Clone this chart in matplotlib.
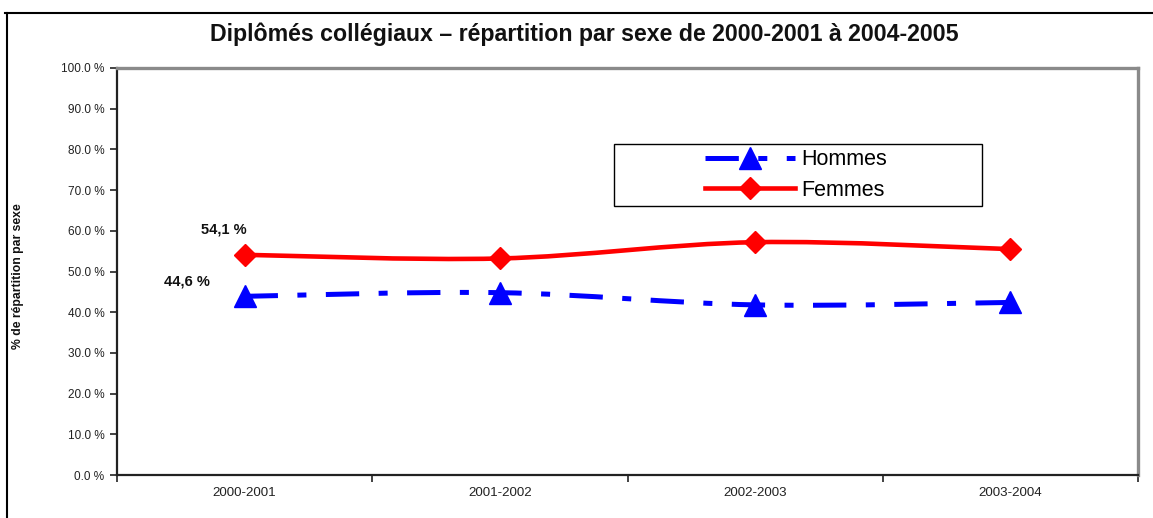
import matplotlib
matplotlib.use("Agg")
import matplotlib.pyplot as plt
from matplotlib.path import Path
from matplotlib.patches import PathPatch, Rectangle
from matplotlib.lines import Line2D
import numpy as np

plt.rcParams['font.family'] = ['Liberation Sans', 'DejaVu Sans']
plt.rcParams['lines.scale_dashes'] = False

# ---- data ----
categories = ['2000-2001', '2001-2002', '2002-2003', '2003-2004']
hommes = [43.9, 44.8, 41.8, 42.4]
femmes = [54.1, 53.2, 57.2, 55.5]
yticks = [0, 10, 20, 30, 40, 50, 60, 70, 80, 90, 100]
ytick_labels = ['0.0 %', '10.0 %', '20.0 %', '30.0 %', '40.0 %', '50.0 %',
                '60.0 %', '70.0 %', '80.0 %', '90.0 %', '100.0 %']
label_femmes = '54,1 %'
label_hommes = '44,6 %'
title = 'Diplômés collégiaux – répartition par sexe de 2000-2001 à 2004-2005'
ylabel = '% de répartition par sexe'

W, H = 1153, 518
fig = plt.figure(figsize=(W / 100, H / 100), dpi=100)
ax = fig.add_axes([117 / W, 43 / H, (1138 - 117) / W, (475 - 68) / H])
AXW, AXH = 1138 - 117, 475 - 68


def smooth_path(xs, ys):
    pts = np.column_stack([xs, ys]).astype(float)
    n = len(pts)
    verts = [pts[0]]
    codes = [Path.MOVETO]
    for i in range(n - 1):
        p0 = pts[i - 1] if i > 0 else pts[i]
        p1 = pts[i]
        p2 = pts[i + 1]
        p3 = pts[i + 2] if i + 2 < n else pts[i + 1]
        c1 = p1 + (p2 - p0) / 6.0
        c2 = p2 - (p3 - p1) / 6.0
        verts += [c1, c2, p2]
        codes += [Path.CURVE4] * 3
    return Path(verts, codes)


x = np.arange(len(categories))

dash_pat = (0, (24, 14, 6.5, 14))
ax.add_patch(PathPatch(smooth_path(x, hommes), facecolor='none',
                       edgecolor='#0000FF', lw=3.6, linestyle=dash_pat,
                       capstyle='butt', zorder=3))
ax.plot(x, hommes, linestyle='none', marker='^', ms=15.5, color='#0000FF',
        mec='#0000FF', zorder=4)

ax.add_patch(PathPatch(smooth_path(x, femmes), facecolor='none',
                       edgecolor='#FF0000', lw=3.3, capstyle='round',
                       zorder=3))
ax.plot(x, femmes, linestyle='none', marker='D', ms=11, color='#FF0000',
        mec='#FF0000', zorder=4)

ax.set_xlim(-0.5, len(categories) - 0.5)
ax.set_ylim(0, 100)
ax.set_yticks(yticks)
ax.set_yticklabels(ytick_labels, fontsize=8.5, color='#222222')
ax.set_xticks(x)
ax.set_xticklabels(categories, fontsize=9.6, color='#222222')
ax.set_xticks(np.arange(len(categories) + 1) - 0.5, minor=True)
ax.tick_params(axis='x', which='major', length=0, pad=9)
ax.tick_params(axis='x', which='minor', length=5, width=1.2, color='#222222')
ax.tick_params(axis='y', which='major', length=5, width=1.2, color='#222222', pad=4)

for side in ['left', 'bottom']:
    ax.spines[side].set_color('#222222')
    ax.spines[side].set_linewidth(1.6)
for side in ['top', 'right']:
    ax.spines[side].set_color('#8a8a8a')
    ax.spines[side].set_linewidth(2.4)

# annotations
ax.text(-0.08, 60.3, label_femmes, fontsize=10.5, fontweight='bold',
        ha='center', va='center', color='#111111')
ax.text(-0.225, 47.6, label_hommes, fontsize=10.5, fontweight='bold',
        ha='center', va='center', color='#111111')

# legend box
ax.add_patch(Rectangle(((614 - 117) / AXW, (475 - 206) / AXH),
                       (982 - 614) / AXW, (206 - 144) / AXH,
                       transform=ax.transAxes, facecolor='white',
                       edgecolor='#000000', lw=1.0, zorder=5))

# legend entries
h_handle = Line2D([], [], color='#0000FF', lw=3.6, linestyle=dash_pat,
                  marker='^', ms=15.5)
f_handle = Line2D([], [], color='#FF0000', lw=3.3, marker='D', ms=11)
leg = ax.legend([h_handle, f_handle], ['Hommes', 'Femmes'],
                loc='center left',
                bbox_to_anchor=((705 - 117) / AXW, (475 - 175) / AXH),
                fontsize=15.5, frameon=False,
                handlelength=4.2, handletextpad=0.25, labelspacing=0.42,
                borderpad=0, borderaxespad=0)
leg.set_zorder(6)

# title
fig.text(584 / W, 1 - 34 / H, title, fontsize=16.7, fontweight='bold',
         ha='center', va='center', color='#111111')

# y label
fig.text(18 / W, 1 - 276 / H, ylabel, fontsize=8.8, fontweight='bold',
         rotation=90, ha='center', va='center', color='#111111')

# outer chart border (top and left)
fig.add_artist(Line2D([5 / W, 1.0], [1 - 13 / H, 1 - 13 / H],
                      transform=fig.transFigure, color='#000000', lw=1.5))
fig.add_artist(Line2D([7 / W, 7 / W], [0, 1 - 13 / H],
                      transform=fig.transFigure, color='#000000', lw=1.5))

fig.savefig('out.png', dpi=100)
